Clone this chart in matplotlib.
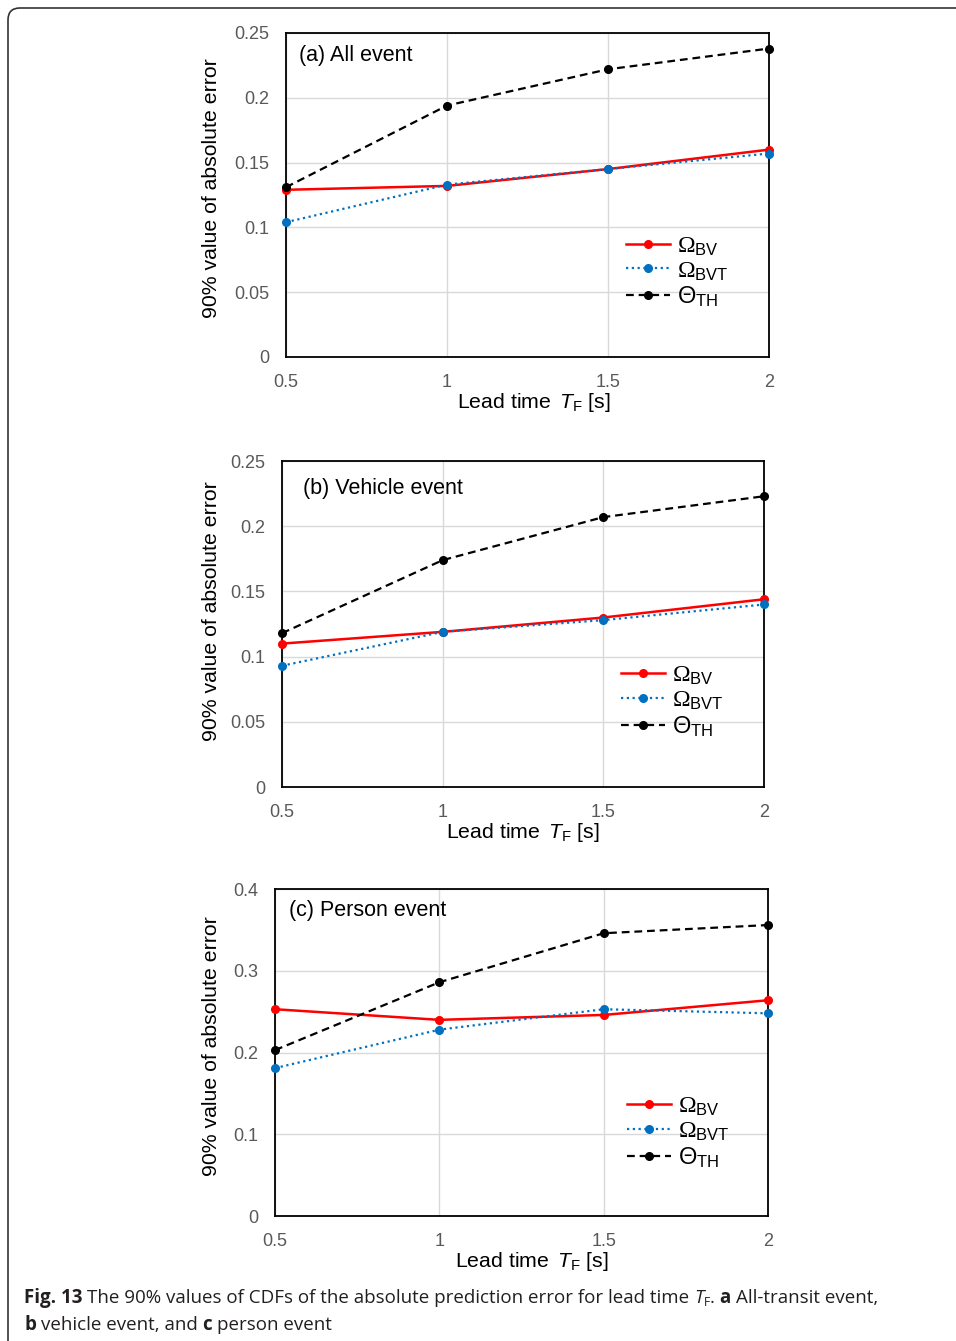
import matplotlib
matplotlib.use('Agg')
import matplotlib.pyplot as plt
from matplotlib.patches import FancyBboxPatch
from matplotlib.transforms import IdentityTransform

plt.rcParams['font.family'] = ['Liberation Sans', 'DejaVu Sans']
plt.rcParams['mathtext.fontset'] = 'custom'
plt.rcParams['mathtext.rm'] = 'Liberation Serif'
plt.rcParams['mathtext.sf'] = 'Liberation Sans'
plt.rcParams['mathtext.it'] = 'Liberation Sans:italic'
plt.rcParams['mathtext.bf'] = 'Liberation Sans:bold'

lead_time = [0.5, 1.0, 1.5, 2.0]

# (a) all event
all_bv = [0.129, 0.132, 0.145, 0.160]
all_bvt = [0.104, 0.133, 0.145, 0.157]
all_th = [0.131, 0.194, 0.222, 0.238]

# (b) vehicle event
veh_bv = [0.110, 0.119, 0.130, 0.144]
veh_bvt = [0.093, 0.119, 0.128, 0.140]
veh_th = [0.118, 0.174, 0.207, 0.223]

# (c) person event
per_bv = [0.253, 0.240, 0.246, 0.264]
per_bvt = [0.181, 0.228, 0.253, 0.248]
per_th = [0.203, 0.286, 0.346, 0.356]

titles = ['(a) All event', '(b) Vehicle event', '(c) Person event']
xticks = [0.5, 1, 1.5, 2]
xticklabels = ['0.5', '1', '1.5', '2']
yticks_ab = [0, 0.05, 0.1, 0.15, 0.2, 0.25]
yticklabels_ab = ['0', '0.05', '0.1', '0.15', '0.2', '0.25']
yticks_c = [0, 0.1, 0.2, 0.3, 0.4]
yticklabels_c = ['0', '0.1', '0.2', '0.3', '0.4']

legend_names = [r'$\Omega_{\mathsf{BV}}$', r'$\Omega_{\mathsf{BVT}}$',
                r'$\mathsf{\Theta}_{\mathsf{TH}}$']

fig = plt.figure(figsize=(9.56, 13.41), dpi=100)

# panel layouts: axes rect, ylabel coords, xlabel coords, title pos, legend anchor
panels = [
    dict(rect=[0.2992, 0.7338, 0.5052, 0.2416], data=(all_bv, all_bvt, all_th),
         yt=yticks_ab, ytl=yticklabels_ab, ymax=0.25,
         ylab=(-0.135, 0.52), xlab=(0.513, -0.105), tit=(0.027, 0.932), leg=(0.704, 0.262)),
    dict(rect=[0.2950, 0.4131, 0.5042, 0.2431], data=(veh_bv, veh_bvt, veh_th),
         yt=yticks_ab, ytl=yticklabels_ab, ymax=0.25,
         ylab=(-0.127, 0.54), xlab=(0.50, -0.104), tit=(0.044, 0.917), leg=(0.703, 0.262)),
    dict(rect=[0.2877, 0.0932, 0.5157, 0.2438], data=(per_bv, per_bvt, per_th),
         yt=yticks_c, ytl=yticklabels_c, ymax=0.4,
         ylab=(-0.11, 0.52), xlab=(0.52, -0.104), tit=(0.028, 0.936), leg=(0.714, 0.255)),
]

for p, title in zip(panels, titles):
    ax = fig.add_axes(p['rect'])
    bv, bvt, th = p['data']
    ax.plot(lead_time, bv, color='#FF0000', lw=1.8, marker='o', ms=5.5,
            label=legend_names[0], zorder=3, clip_on=False)
    ax.plot(lead_time, bvt, color='#0070C0', lw=1.6, ls=(0, (1, 1.6)), marker='o', ms=5.5,
            label=legend_names[1], zorder=4, clip_on=False)
    ax.plot(lead_time, th, color='black', lw=1.6, ls=(0, (3.5, 2.2)), marker='o', ms=5.5,
            label=legend_names[2], zorder=5, clip_on=False)
    ax.set_xlim(0.5, 2)
    ax.set_ylim(0, p['ymax'])
    ax.set_xticks(xticks)
    ax.set_xticklabels(xticklabels)
    ax.set_yticks(p['yt'])
    ax.set_yticklabels(p['ytl'])
    ax.tick_params(length=0, labelsize=13, labelcolor='#595959')
    ax.tick_params(axis='x', pad=12)
    ax.tick_params(axis='y', pad=12)
    ax.grid(True, color='#D9D9D9', lw=1)
    ax.set_axisbelow(True)
    for s in ax.spines.values():
        s.set_color('black')
        s.set_linewidth(1.3)
    ax.set_ylabel('90% value of absolute error', fontsize=15.3)
    ax.yaxis.set_label_coords(*p['ylab'])
    ax.set_xlabel(r'Lead time $\,T_{\mathsf{F}}$ [s]', fontsize=15.3)
    ax.xaxis.set_label_coords(*p['xlab'])
    ax.text(p['tit'][0], p['tit'][1], title, transform=ax.transAxes, fontsize=15.5,
            ha='left', va='center')
    ax.legend(loc='center left', bbox_to_anchor=p['leg'], frameon=False, fontsize=17,
              borderpad=0, borderaxespad=0, handlelength=1.85, handletextpad=0.3,
              labelspacing=0.08)

# figure frame (rounded top-left corner, open to right and bottom)
frame = FancyBboxPatch((8, -300), 1400, 1341 - 8 + 300,
                       boxstyle='round,pad=0,rounding_size=12',
                       transform=IdentityTransform(), fill=False,
                       edgecolor='#333333', lw=1.2)
fig.add_artist(frame)

# caption, drawn piece by piece
renderer = fig.canvas.get_renderer()
cap_size = 13.5
cap_fam = ['Open Sans', 'DejaVu Sans']


def width_of(s, weight='normal', style='normal', size=cap_size):
    t = fig.text(0, 0, s, fontsize=size, family=cap_fam, weight=weight, style=style)
    w = t.get_window_extent(renderer).width
    t.remove()
    return w


space_w = width_of('x x') - width_of('xx')


def caption_line(pieces, x0, y0):
    x = x0
    for txt, kw in pieces:
        lead = len(txt) - len(txt.lstrip(' '))
        trail = len(txt) - len(txt.rstrip(' '))
        core = txt.strip(' ')
        x += lead * space_w
        size = kw.get('size', cap_size)
        dy = kw.get('dy', 0)
        t = fig.text(x, y0 + dy, core, fontsize=size, family=cap_fam,
                     weight=kw.get('weight', 'normal'), style=kw.get('style', 'normal'),
                     color='#231F20', ha='left', va='baseline', transform=IdentityTransform())
        x += t.get_window_extent(renderer).width + trail * space_w


line1 = [
    ('Fig. 13', dict(weight='bold')),
    (' The 90% values of CDFs of the absolute prediction error for lead time ', {}),
    ('T', dict(style='italic')),
    ('F', dict(size=cap_size * 0.65, dy=-3)),
    ('.', {}),
    (' a', dict(weight='bold')),
    (' All-transit event,', {}),
]
line2 = [
    ('b', dict(weight='bold')),
    (' vehicle event, and ', {}),
    ('c', dict(weight='bold')),
    (' person event', {}),
]
caption_line(line1, 24, 1341 - 1303)
caption_line(line2, 24, 1341 - 1330)

fig.savefig('out.png', dpi=100)
